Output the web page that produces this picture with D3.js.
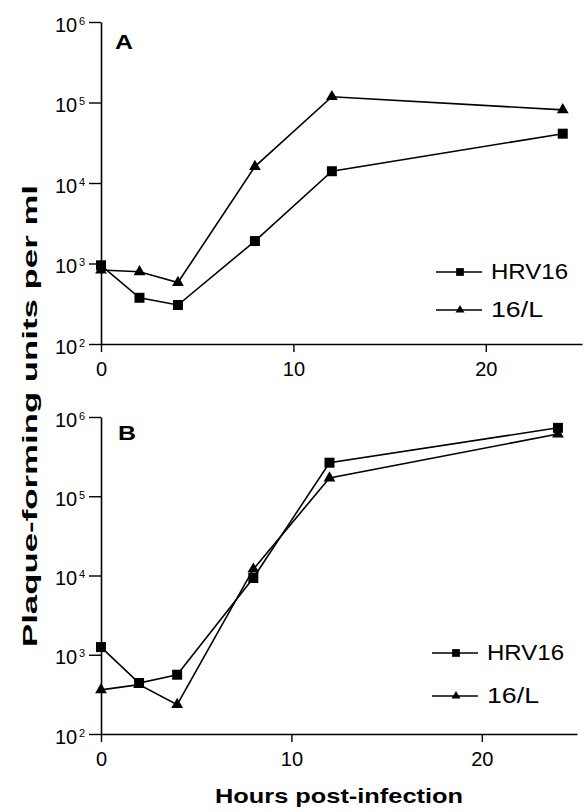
<!DOCTYPE html>
<html>
<head>
<meta charset="utf-8">
<script src="https://cdn.jsdelivr.net/npm/d3@7"></script>
<style>
  body { margin: 0; background: #fff; }
  svg { display: block; font-family: "Liberation Sans", Arial, sans-serif; }
</style>
</head>
<body>
<svg id="chart" width="585" height="812"></svg>
<script>
// data (pfu per ml)
const hours = [0, 2, 4, 8, 12, 24];
const hrv16A = [950, 375, 305, 1900, 14000, 41000];
const l16A = [830, 790, 580, 16000, 118000, 81000];
const hrv16B = [1250, 440, 560, 9300, 265000, 730000];
const l16B = [360, 420, 235, 12000, 170000, 610000];
const seriesNames = ['HRV16', '16/L'];
const xTicks = [0, 10, 20];
const yExponents = [2, 3, 4, 5, 6];

const svg = d3.select('#chart');

const panels = [
  { label: 'A', series: [hrv16A, l16A], top: 22, bottom: 344, left: 101, right: 582,
    legendX: 436, legendY: [272, 310], labelPos: [115, 49] },
  { label: 'B', series: [hrv16B, l16B], top: 417, bottom: 734, left: 101, right: 577,
    legendX: 432, legendY: [653, 696], labelPos: [118, 440] }
];

const symbols = [d3.symbolSquare, d3.symbolTriangle];
const symSize = [100, 60];
const legendSymSize = [60, 34];

panels.forEach(p => {
  const x = d3.scaleLinear().domain([0, 25]).range([p.left, p.right]);
  const y = d3.scaleLog().domain([1e2, 1e6]).range([p.bottom, p.top]);
  const g = svg.append('g');

  // x axis
  const xa = g.append('g')
    .attr('transform', `translate(0, ${p.bottom})`)
    .call(d3.axisBottom(x).tickValues(xTicks).tickSize(8).tickSizeOuter(0).tickPadding(10));
  xa.select('.domain').attr('stroke-width', 1.6);
  xa.selectAll('.tick line').attr('stroke-width', 1.4);
  xa.selectAll('.tick text').attr('font-size', 20).attr('fill', '#000')
    .attr('font-family', '"Liberation Sans", Arial, sans-serif');

  // y axis, log with 10^n labels
  const ya = g.append('g')
    .attr('transform', `translate(${p.left}, 0)`)
    .call(d3.axisLeft(y).tickValues(yExponents.map(e => Math.pow(10, e)))
      .tickSize(12).tickSizeOuter(0).tickFormat(() => ''));
  ya.select('.domain').attr('stroke-width', 1.6);
  ya.selectAll('.tick line').attr('stroke-width', 1.4);
  ya.selectAll('.tick').each(function (d) {
    const t = d3.select(this);
    t.append('text').attr('x', -46).attr('y', 9).attr('text-anchor', 'start')
      .attr('font-size', 20).attr('fill', '#000').text('10');
    t.append('text').attr('x', -22).attr('y', 2).attr('text-anchor', 'start')
      .attr('font-size', 11).attr('fill', '#000').text(Math.round(Math.log10(d)));
  });

  // series lines + markers
  const line = d3.line().x((d, i) => x(hours[i])).y(d => y(d));
  p.series.forEach((vals, si) => {
    g.append('path').datum(vals)
      .attr('d', line)
      .attr('fill', 'none')
      .attr('stroke', '#000')
      .attr('stroke-width', 1.6);
    g.selectAll(null).data(vals).enter().append('path')
      .attr('d', d3.symbol().type(symbols[si]).size(symSize[si]))
      .attr('transform', (d, i) => `translate(${x(hours[i])}, ${y(d)})`)
      .attr('fill', '#000');
  });

  // panel letter
  g.append('text').attr('x', p.labelPos[0]).attr('y', p.labelPos[1])
    .attr('font-size', 21).attr('font-weight', 'bold')
    .attr('textLength', 18).attr('lengthAdjust', 'spacingAndGlyphs')
    .text(p.label);

  // legend
  seriesNames.forEach((name, si) => {
    const ly = p.legendY[si];
    g.append('line').attr('x1', p.legendX).attr('x2', p.legendX + 46)
      .attr('y1', ly).attr('y2', ly).attr('stroke', '#000').attr('stroke-width', 1.4);
    g.append('path')
      .attr('d', d3.symbol().type(symbols[si]).size(legendSymSize[si]))
      .attr('transform', `translate(${p.legendX + 24}, ${ly})`)
      .attr('fill', '#000');
    g.append('text').attr('x', p.legendX + 55).attr('y', ly + 7)
      .attr('font-size', 22)
      .attr('textLength', si === 0 ? 77 : 52)
      .attr('lengthAdjust', 'spacingAndGlyphs')
      .text(name);
  });
});

// axis titles
svg.append('text')
  .attr('transform', 'translate(37, 416) rotate(-90)')
  .attr('text-anchor', 'middle')
  .attr('font-size', 21).attr('font-weight', 'bold')
  .attr('textLength', 462).attr('lengthAdjust', 'spacingAndGlyphs')
  .text('Plaque-forming units per ml');

svg.append('text')
  .attr('x', 339).attr('y', 803)
  .attr('text-anchor', 'middle')
  .attr('font-size', 21).attr('font-weight', 'bold')
  .attr('textLength', 248).attr('lengthAdjust', 'spacingAndGlyphs')
  .text('Hours post-infection');
</script>
</body>
</html>
